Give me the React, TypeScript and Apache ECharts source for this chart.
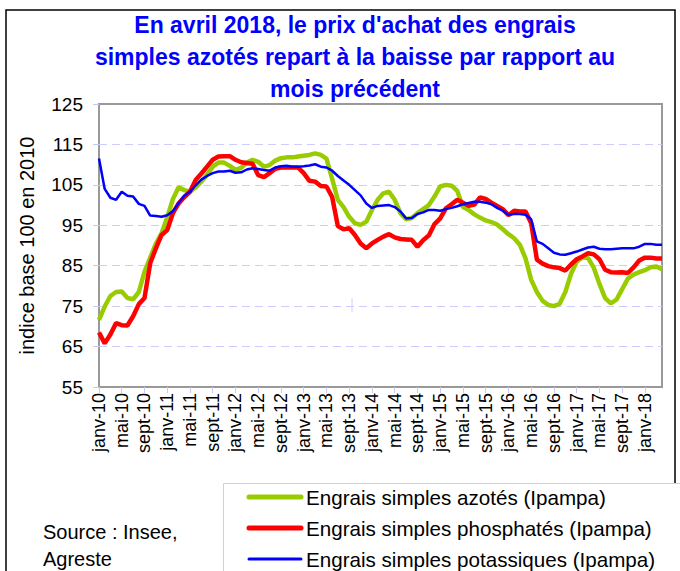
import React, { useEffect, useRef } from "react";
import * as echarts from "echarts";

const MONTHS = ["janv", "févr", "mars", "avr", "mai", "juin", "juil", "août", "sept", "oct", "nov", "déc"];
const YEARS = ["10", "11", "12", "13", "14", "15", "16", "17", "18"];
const N_MONTHS = 100; // janv-10 .. avr-18

const TITLE = "En avril 2018, le prix d'achat des engrais\nsimples azotés repart à la baisse par rapport au\nmois précédent";
const Y_NAME = "indice base 100 en 2010";
const SOURCE = "Source : Insee,\nAgreste";
const SERIES_NAMES = [
  "Engrais simples azotés (Ipampa)",
  "Engrais simples phosphatés (Ipampa)",
  "Engrais simples potassiques (Ipampa)",
];
const SERIES_COLORS = ["#99cc00", "#ff0000", "#0000ff"];
const SERIES_WIDTHS = [4.5, 4.5, 2.5];

const azotes = [
  71.6, 74.9, 77.5, 78.5, 78.6, 77.0, 76.7, 78.5, 83.5, 87.0,
  90.5, 93.0, 97.0, 101.5, 104.4, 103.7, 103.3, 104.4, 105.8, 107.5,
  109.5, 110.5, 110.5, 109.7, 108.7, 109.2, 110.5, 111.2, 110.7, 109.5,
  109.9, 111.0, 111.6, 111.8, 111.8, 112.0, 112.2, 112.4, 112.8, 112.4,
  111.5, 106.5, 101.3, 99.5, 97.1, 95.5, 95.1, 95.9, 98.8, 101.3,
  102.9, 103.3, 101.3, 98.0, 96.5, 96.8, 98.0, 99.0, 100.0, 102.1,
  104.6, 105.0, 104.8, 103.5, 99.5, 98.8, 97.7, 96.9, 96.2, 95.8,
  95.2, 94.0, 92.8, 91.8, 90.2, 86.8, 81.5, 78.5, 76.3, 75.3,
  75.0, 75.6, 78.5, 83.0, 86.0, 87.1, 86.9, 84.5, 80.5, 77.0,
  75.7, 76.6, 79.2, 81.8, 82.8, 83.4, 83.9, 84.6, 84.8, 84.1,
];

const phosphates = [
  68.5, 65.8, 68.0, 70.8, 70.3, 70.2, 72.5, 75.5, 77.0, 85.6,
  89.3, 92.6, 93.8, 98.0, 100.4, 102.0, 103.3, 106.2, 107.8, 109.5,
  111.2, 112.0, 112.1, 112.1, 111.2, 110.6, 110.4, 110.2, 107.4, 106.9,
  107.9, 109.0, 109.3, 109.3, 109.3, 109.3, 107.9, 106.0, 105.8, 104.7,
  104.6, 102.0, 94.8, 94.0, 94.3, 92.6, 90.5, 89.3, 90.5, 91.4,
  92.2, 92.8, 92.0, 91.6, 91.5, 91.4, 89.7, 91.3, 92.5, 95.3,
  96.7, 99.2, 100.2, 101.3, 100.6, 99.8, 100.1, 101.9, 101.5, 100.6,
  99.8, 99.0, 97.5, 98.6, 98.4, 98.4, 95.5, 86.5, 85.5, 84.9,
  84.6, 84.4, 83.8, 85.3, 86.6, 87.3, 88.1, 87.8, 86.6, 84.0,
  83.4, 83.3, 83.4, 83.2, 84.6, 86.3, 87.0, 87.0, 86.8, 86.8,
];

const potassiques = [
  111.5, 104.0, 101.8, 101.3, 103.3, 102.3, 102.1, 100.3, 99.8, 97.4,
  97.3, 97.1, 97.5, 98.5, 100.5, 102.3, 103.3, 104.9, 106.3, 107.2,
  107.9, 108.3, 108.3, 108.5, 108.0, 108.1, 108.8, 109.1, 108.9, 108.7,
  108.5, 109.3, 109.6, 109.7, 109.5, 109.5, 109.6, 109.8, 110.1, 109.5,
  109.3, 108.5, 107.2, 106.1, 105.0, 103.7, 102.4, 100.4, 99.3, 99.8,
  99.9, 100.0, 99.5, 98.4, 96.7, 96.8, 97.8, 98.2, 98.8, 98.8,
  98.6, 99.0, 99.3, 99.7, 100.2, 100.5, 100.8, 100.8, 100.6, 100.2,
  99.3, 98.6, 97.6, 97.8, 97.8, 97.6, 96.5, 91.0, 90.4, 89.3,
  88.2, 87.8, 87.7, 88.1, 88.5, 89.0, 89.5, 89.7, 89.2, 89.1,
  89.1, 89.2, 89.3, 89.3, 89.3, 89.7, 90.4, 90.4, 90.2, 90.2,
];

const categories: string[] = [];
YEARS.forEach((y) => MONTHS.forEach((m) => categories.push(`${m}-${y}`)));
const cats = categories.slice(0, N_MONTHS);

const FONT = "'Liberation Sans', Arial, sans-serif";

export default function App() {
  const ref = useRef<HTMLDivElement>(null);
  useEffect(() => {
    document.body.style.margin = "0";
    if (!ref.current) return;
    const chart = echarts.init(ref.current, null, { renderer: "svg" });

    const legendItems: any[] = [];
    SERIES_NAMES.forEach((name, k) => {
      const cy = 497 + k * 31;
      legendItems.push({
        type: "line",
        shape: { x1: 249, y1: cy, x2: 301, y2: cy },
        style: { stroke: SERIES_COLORS[k], lineWidth: SERIES_WIDTHS[k] + 0.5, lineCap: "round" },
        silent: true,
      });
      legendItems.push({
        type: "text",
        x: 306,
        y: cy,
        style: { text: name, font: `20.6px ${FONT}`, fill: "#000", textVerticalAlign: "middle", verticalAlign: "middle" },
        silent: true,
      });
    });

    const option: any = {
      animation: false,
      textStyle: { fontFamily: FONT },
      title: {
        text: TITLE,
        left: 355,
        top: 9,
        textAlign: "center",
        padding: 0,
        textStyle: { fontSize: 23, fontWeight: "bold", color: "#0000ff", lineHeight: 32, fontFamily: FONT },
      },
      grid: {
        left: 99, top: 104, right: 18, bottom: 184,
        show: true, borderColor: "#999999", borderWidth: 2, backgroundColor: "transparent",
      },
      xAxis: {
        type: "category",
        data: cats,
        boundaryGap: false,
        axisLine: { show: false },
        axisTick: { show: true, interval: 3, length: 6, lineStyle: { color: "#c8c8ee" } },
        axisLabel: { interval: 3, rotate: 90, margin: 6, fontSize: 18, color: "#000", fontFamily: FONT },
        splitLine: { show: false },
      },
      yAxis: {
        type: "value",
        min: 55, max: 125, interval: 10,
        name: Y_NAME,
        nameLocation: "middle",
        nameGap: 62,
        nameTextStyle: { fontSize: 20, color: "#000", fontFamily: FONT },
        axisLine: { show: false },
        axisTick: { show: true, length: 6, lineStyle: { color: "#c8c8ee" } },
        axisLabel: { fontSize: 19, color: "#000", margin: 16, fontFamily: FONT },
        splitLine: { show: true, showMinLine: false, showMaxLine: false, lineStyle: { color: "#ccccff", type: [8, 5], width: 1 } },
      },
      series: [
        { name: SERIES_NAMES[0], type: "line", data: azotes, symbol: "none", lineStyle: { color: SERIES_COLORS[0], width: SERIES_WIDTHS[0] }, itemStyle: { color: SERIES_COLORS[0] } },
        { name: SERIES_NAMES[1], type: "line", data: phosphates, symbol: "none", lineStyle: { color: SERIES_COLORS[1], width: SERIES_WIDTHS[1] }, itemStyle: { color: SERIES_COLORS[1] } },
        { name: SERIES_NAMES[2], type: "line", data: potassiques, symbol: "none", lineStyle: { color: SERIES_COLORS[2], width: SERIES_WIDTHS[2] }, itemStyle: { color: SERIES_COLORS[2] } },
      ],
      graphic: [
        { type: "rect", shape: { x: 6, y: 10, width: 669, height: 620 }, style: { fill: "none", stroke: "#000", lineWidth: 1.5 }, silent: true },
        { type: "line", shape: { x1: 352, y1: 298, x2: 352, y2: 312 }, style: { stroke: "#d0d0f0", lineWidth: 1 }, silent: true },
        { type: "rect", shape: { x: 223.5, y: 483.5, width: 500, height: 200 }, style: { fill: "#fff", stroke: "#ccccff", lineWidth: 1 }, silent: true },
        ...legendItems,
        { type: "text", x: 43, y: 518, style: { text: SOURCE, font: `20px ${FONT}`, lineHeight: 27, fill: "#000" }, silent: true },
      ],
    };
    chart.setOption(option);
    return () => chart.dispose();
  }, []);
  return <div ref={ref} style={{ width: 680, height: 571 }} />;
}
